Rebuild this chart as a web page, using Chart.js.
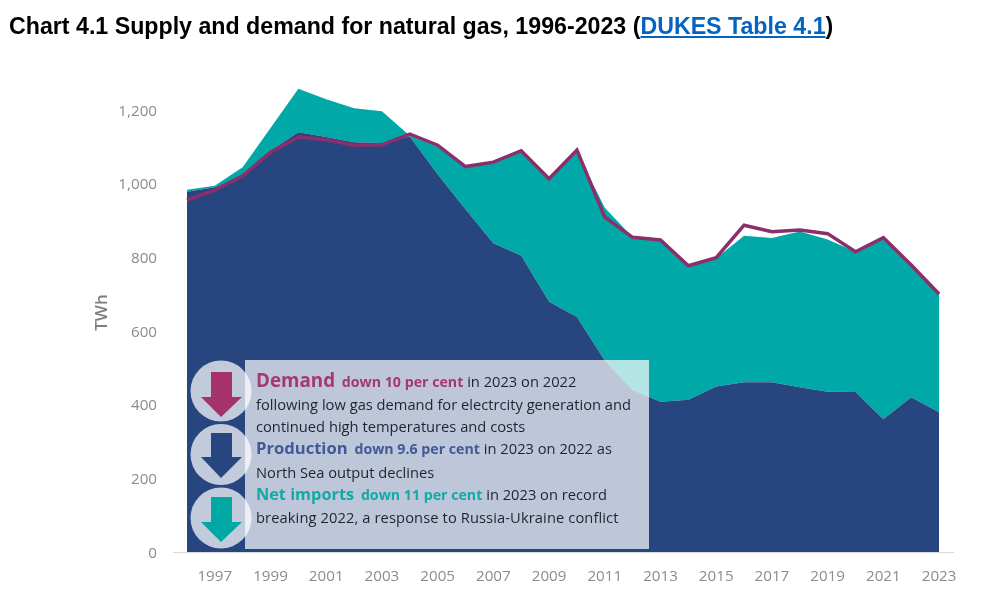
<!DOCTYPE html>
<html>
<head>
<meta charset="utf-8">
<title>Chart 4.1</title>
<script src="https://cdn.jsdelivr.net/npm/chart.js@4/dist/chart.umd.js"></script>
<style>
  html, body { margin: 0; padding: 0; background: #fff; }
  body { width: 1000px; height: 610px; position: relative; overflow: hidden; }
  #chart { position: absolute; left: 0; top: 0; }
  #title {
    position: absolute; left: 9px; top: 13px; white-space: nowrap;
    font: bold 23.2px "Liberation Sans", Arial, sans-serif; color: #000;
  }
  #title a { color: #0563c1; text-decoration: underline; }
  #callout {
    position: absolute; left: 245px; top: 360px; width: 404px; height: 189px;
    background: rgba(255, 255, 255, 0.7);
  }
  #arrows { position: absolute; left: 0; top: 0; }
  .line {
    position: absolute; left: 256px; white-space: nowrap; height: 24px;
    font: 14.7px/24px "Open Sans", sans-serif; color: #1f2430;
  }
  .line b { font-size: 14.2px; }
  .line b.head { margin-right: 3px; }
  .demand { color: #a5386f; }
  .production { color: #3f5a96; }
  .imports { color: #12aaa6; }
</style>
</head>
<body>
<canvas id="chart" width="1000" height="610"></canvas>
<div id="title">Chart 4.1 Supply and demand for natural gas, 1996-2023 (<a href="#">DUKES Table 4.1</a>)</div>
<div id="callout"></div>
<svg id="arrows" width="1000" height="610">
  <circle cx="221" cy="391" r="30.5" fill="rgba(255,255,255,0.72)"/>
  <circle cx="221" cy="454.5" r="30.5" fill="rgba(255,255,255,0.72)"/>
  <circle cx="221" cy="518" r="30.5" fill="rgba(255,255,255,0.72)"/>
  <polygon fill="#a5336a" points="211,372 232,372 232,397 242,397 221,417 201,397 211,397"/>
  <polygon fill="#27457f" points="211,433 232,433 232,457 242,457 221,478 201,457 211,457"/>
  <polygon fill="#00a8a4" points="211,497 232,497 232,522 242,522 221,542 201,522 211,522"/>
</svg>
<div class="line" style="top:368px"><b class="head demand" style="font-size:18.8px">Demand</b> <b class="demand">down 10 per cent</b> in 2023 on 2022</div>
<div class="line" style="top:392px">following low gas demand for electrcity generation and</div>
<div class="line" style="top:414px">continued high temperatures and costs</div>
<div class="line" style="top:436px"><b class="head production" style="font-size:16.6px">Production</b> <b class="production">down 9.6 per cent</b> in 2023 on 2022 as</div>
<div class="line" style="top:460px">North Sea output declines</div>
<div class="line" style="top:482px"><b class="head imports" style="font-size:16.3px">Net imports</b> <b class="imports">down 11 per cent</b> in 2023 on record</div>
<div class="line" style="top:505px;letter-spacing:0.1px">breaking 2022, a response to Russia-Ukraine conflict</div>
<script>
  const years = ["1996", "1997", "1998", "1999", "2000", "2001", "2002", "2003", "2004", "2005",
    "2006", "2007", "2008", "2009", "2010", "2011", "2012", "2013", "2014", "2015",
    "2016", "2017", "2018", "2019", "2020", "2021", "2022", "2023"];

  const production = [978, 990, 1020, 1090, 1139, 1126, 1112, 1110, 1128, 1025,
    930, 838, 805, 679, 638, 520, 440, 408, 413, 449,
    461, 461, 447, 435, 434, 360, 420, 379];

  const netImports = [5, 4, 24, 61, 118, 103, 92, 86, 2, 75,
    116, 217, 288, 334, 447, 414, 414, 437, 364, 348,
    397, 391, 423, 413, 381, 490, 359, 321];

  const demand = [955, 982, 1021, 1085, 1126, 1119, 1104, 1105, 1134, 1104,
    1046, 1058, 1089, 1013, 1091, 909, 854, 847, 777, 799,
    887, 869, 874, 864, 815, 853, 779, 700];

  const axisGrey = "#8c8c8c";

  new Chart(document.getElementById("chart"), {
    type: "line",
    data: {
      labels: years,
      datasets: [
        {
          label: "Demand",
          data: demand,
          stack: "demand",
          borderColor: "#8b2f6b",
          borderWidth: 3.5,
          pointRadius: 0,
          fill: false,
          tension: 0,
          order: 0,
        },
        {
          label: "Production",
          data: production,
          stack: "supply",
          borderWidth: 0,
          backgroundColor: "#27457f",
          pointRadius: 0,
          fill: "origin",
          tension: 0,
          order: 1,
        },
        {
          label: "Net imports",
          data: netImports,
          stack: "supply",
          borderWidth: 0,
          backgroundColor: "#00a8a8",
          pointRadius: 0,
          fill: "-1",
          tension: 0,
          order: 2,
        },
      ],
    },
    options: {
      responsive: false,
      animation: false,
      layout: { padding: { left: 92, right: 47, top: 73, bottom: 18 } },
      plugins: { legend: { display: false }, tooltip: { enabled: false } },
      scales: {
        x: {
          offset: true,
          grid: { display: false },
          border: { color: "#d9d9d9", width: 1 },
          afterFit: (scale) => { scale.height = 40; },
          ticks: {
            autoSkip: false,
            maxRotation: 0,
            color: axisGrey,
            padding: 8,
            font: { family: "Open Sans", size: 15.2 },
            callback: (value, index) => (index % 2 === 1 ? years[index] : ""),
          },
        },
        y: {
          stacked: true,
          min: 0,
          max: 1300,
          grid: { display: false },
          border: { display: false },
          afterFit: (scale) => { scale.width = 81; },
          title: {
            display: true,
            text: "TWh",
            color: "#7f7f7f",
            padding: 0,
            font: { family: "Open Sans", size: 17, weight: "600" },
          },
          ticks: {
            stepSize: 200,
            includeBounds: false,
            color: axisGrey,
            padding: 8,
            labelOffset: 1.5,
            font: { family: "Open Sans", size: 15.2 },
            callback: (value) => value.toLocaleString("en-GB"),
          },
        },
      },
    },
  });
</script>
</body>
</html>
